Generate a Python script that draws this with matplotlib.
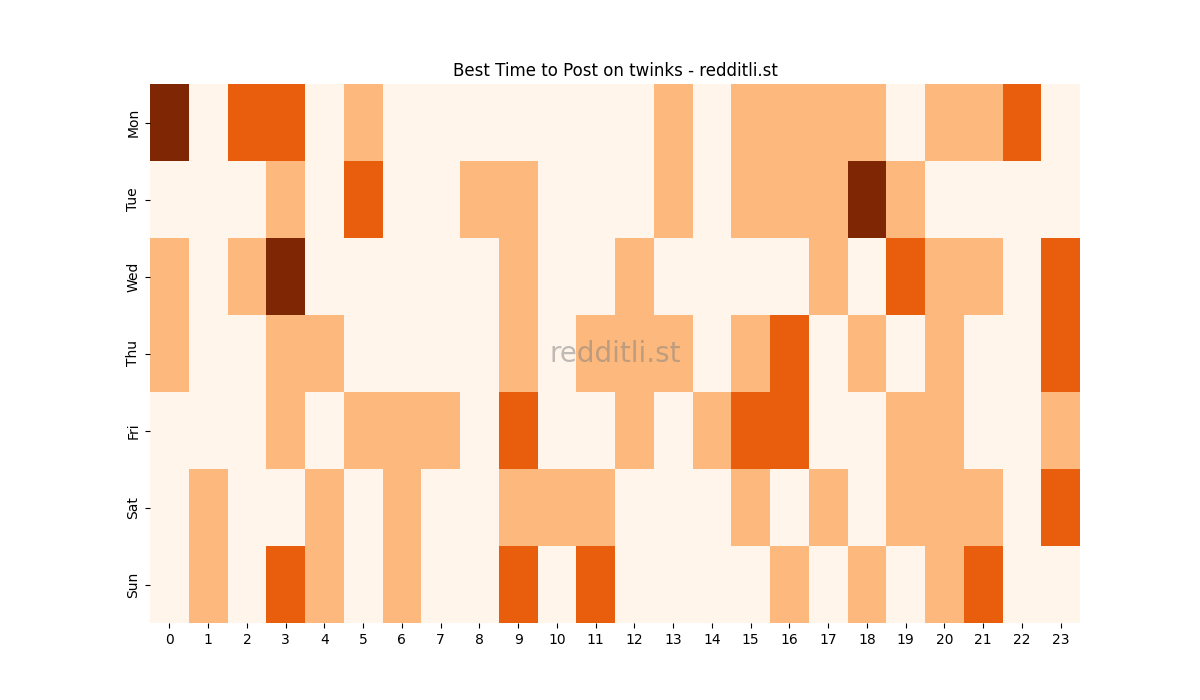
import matplotlib; matplotlib.use("Agg")
import matplotlib.pyplot as plt
import numpy as np
import seaborn as sns

days = ["Mon", "Tue", "Wed", "Thu", "Fri", "Sat", "Sun"]
hours = list(range(24))

mon = [3, 0, 2, 2, 0, 1, 0, 0, 0, 0, 0, 0, 0, 1, 0, 1, 1, 1, 1, 0, 1, 1, 2, 0]
tue = [0, 0, 0, 1, 0, 2, 0, 0, 1, 1, 0, 0, 0, 1, 0, 1, 1, 1, 3, 1, 0, 0, 0, 0]
wed = [1, 0, 1, 3, 0, 0, 0, 0, 0, 1, 0, 0, 1, 0, 0, 0, 0, 1, 0, 2, 1, 1, 0, 2]
thu = [1, 0, 0, 1, 1, 0, 0, 0, 0, 1, 0, 1, 1, 1, 0, 1, 2, 0, 1, 0, 1, 0, 0, 2]
fri = [0, 0, 0, 1, 0, 1, 1, 1, 0, 2, 0, 0, 1, 0, 1, 2, 2, 0, 0, 1, 1, 0, 0, 1]
sat = [0, 1, 0, 0, 1, 0, 1, 0, 0, 1, 1, 1, 0, 0, 0, 1, 0, 1, 0, 1, 1, 1, 0, 2]
sun = [0, 1, 0, 2, 1, 0, 1, 0, 0, 2, 0, 2, 0, 0, 0, 0, 1, 0, 1, 0, 1, 2, 0, 0]

grid = np.array([mon, tue, wed, thu, fri, sat, sun])

fig, ax = plt.subplots(figsize=(12, 7), dpi=100)
sns.heatmap(grid, cmap="Oranges", vmin=0, vmax=3, cbar=False,
            xticklabels=hours, yticklabels=days, ax=ax)
ax.set_yticklabels(days, rotation=90, va="center")
ax.set_xticklabels(hours, rotation=0)
ax.set_title("Best Time to Post on twinks - redditli.st")
ax.text(0.5, 0.5, "redditli.st", transform=ax.transAxes, ha="center", va="center",
        fontsize=20, color="gray", alpha=0.5)
fig.savefig("out.png", dpi=100)
